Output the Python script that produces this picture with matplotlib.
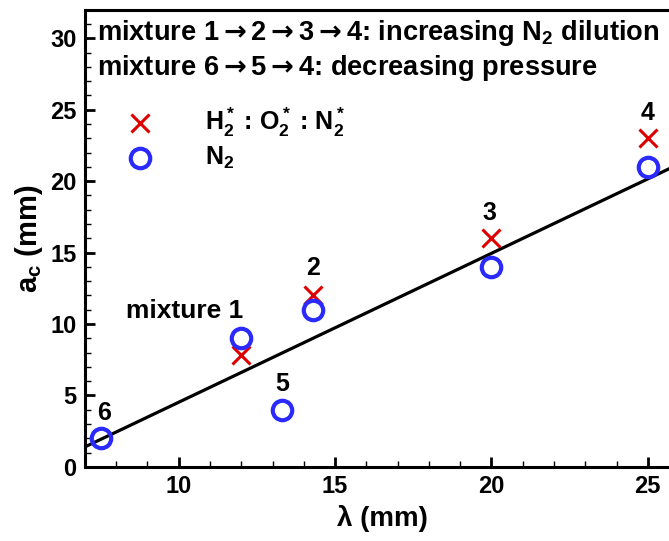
import matplotlib
matplotlib.use("Agg")
import matplotlib.pyplot as plt
from matplotlib.ticker import MultipleLocator

# fonts: bold sans for everything, math in the same face
plt.rcParams["font.family"] = ["Liberation Sans", "DejaVu Sans"]
plt.rcParams["font.weight"] = "bold"
plt.rcParams["axes.labelweight"] = "bold"
plt.rcParams["mathtext.fontset"] = "custom"
plt.rcParams["mathtext.rm"] = "Liberation Sans:bold"
plt.rcParams["mathtext.it"] = "Liberation Sans:bold"
plt.rcParams["mathtext.bf"] = "Liberation Sans:bold"
plt.rcParams["mathtext.sf"] = "DejaVu Sans"
plt.rcParams["mathtext.default"] = "rm"

# data
lam_mix = [12.0, 14.3, 20.0, 25.0]          # mixtures 1-4, H2*:O2*:N2*
ac_mix = [7.8, 12.0, 16.0, 23.0]
lam_n2 = [7.5, 12.0, 13.3, 14.3, 20.0, 25.0]  # N2 dilution, mixtures 6,1,5,2,3,4
ac_n2 = [2.0, 9.0, 4.0, 11.0, 14.0, 21.0]
fit_x = [7.0, 26.0]
fit_y = [1.4, 21.2]

point_labels = ["6", "5", "2", "3", "4"]
label_x = [7.6, 13.3, 14.3, 19.95, 25.0]
label_y = [3.8, 5.8, 13.9, 17.8, 24.8]

ARROW = r"$\mathsf{\rightarrow}$"

fig = plt.figure(figsize=(6.69, 5.41), dpi=100)
ax = fig.add_axes([0.127, 0.137, 0.888, 0.845])

ax.plot(fit_x, fit_y, color="black", lw=2.3, zorder=2)
ax.plot(lam_mix, ac_mix, ls="none", marker="x", ms=13, mew=2.2, color="#dd0000", zorder=3)
ax.plot(lam_n2, ac_n2, ls="none", marker="o", ms=14, mew=3, mfc="none", mec="#2a2aff", zorder=4)

for t, x, y in zip(point_labels, label_x, label_y):
    ax.text(x, y, t, fontsize=18, ha="center", va="center")
ax.text(10.2, 10.9, "mixture 1", fontsize=19, ha="center", va="center")

# header lines and legend-like key
ax.text(7.38, 30.4, "mixture 1" + ARROW + "2" + ARROW + "3" + ARROW + "4: increasing N$_2$ dilution",
        fontsize=19.6, ha="left", va="center")
ax.text(7.38, 27.9, "mixture 6" + ARROW + "5" + ARROW + "4: decreasing pressure",
        fontsize=19.6, ha="left", va="center")
ax.plot([8.77], [24.1], ls="none", marker="x", ms=13, mew=2.2, color="#dd0000")
ax.plot([8.77], [21.65], ls="none", marker="o", ms=14, mew=3, mfc="none", mec="#2a2aff")
ax.text(10.85, 24.1, "H$_2^*$ : O$_2^*$ : N$_2^*$", fontsize=18, ha="left", va="center")
ax.text(10.85, 21.65, "N$_2$", fontsize=18, ha="left", va="center")

ax.set_xlim(7, 26)
ax.set_ylim(0, 32)
ax.xaxis.set_major_locator(MultipleLocator(5))
ax.xaxis.set_minor_locator(MultipleLocator(1))
ax.yaxis.set_major_locator(MultipleLocator(5))
ax.yaxis.set_minor_locator(MultipleLocator(1))
ax.tick_params(which="major", direction="in", length=7, width=2, labelsize=17, pad=6)
ax.tick_params(which="minor", direction="in", length=4, width=1)
for s in ax.spines.values():
    s.set_linewidth(2.2)
ax.spines["right"].set_visible(False)

ax.set_xlabel("\u03bb (mm)", fontsize=20, labelpad=5)
ax.set_ylabel("a$_c$ (mm)", fontsize=21, labelpad=4)

fig.savefig("out.png", dpi=100)
